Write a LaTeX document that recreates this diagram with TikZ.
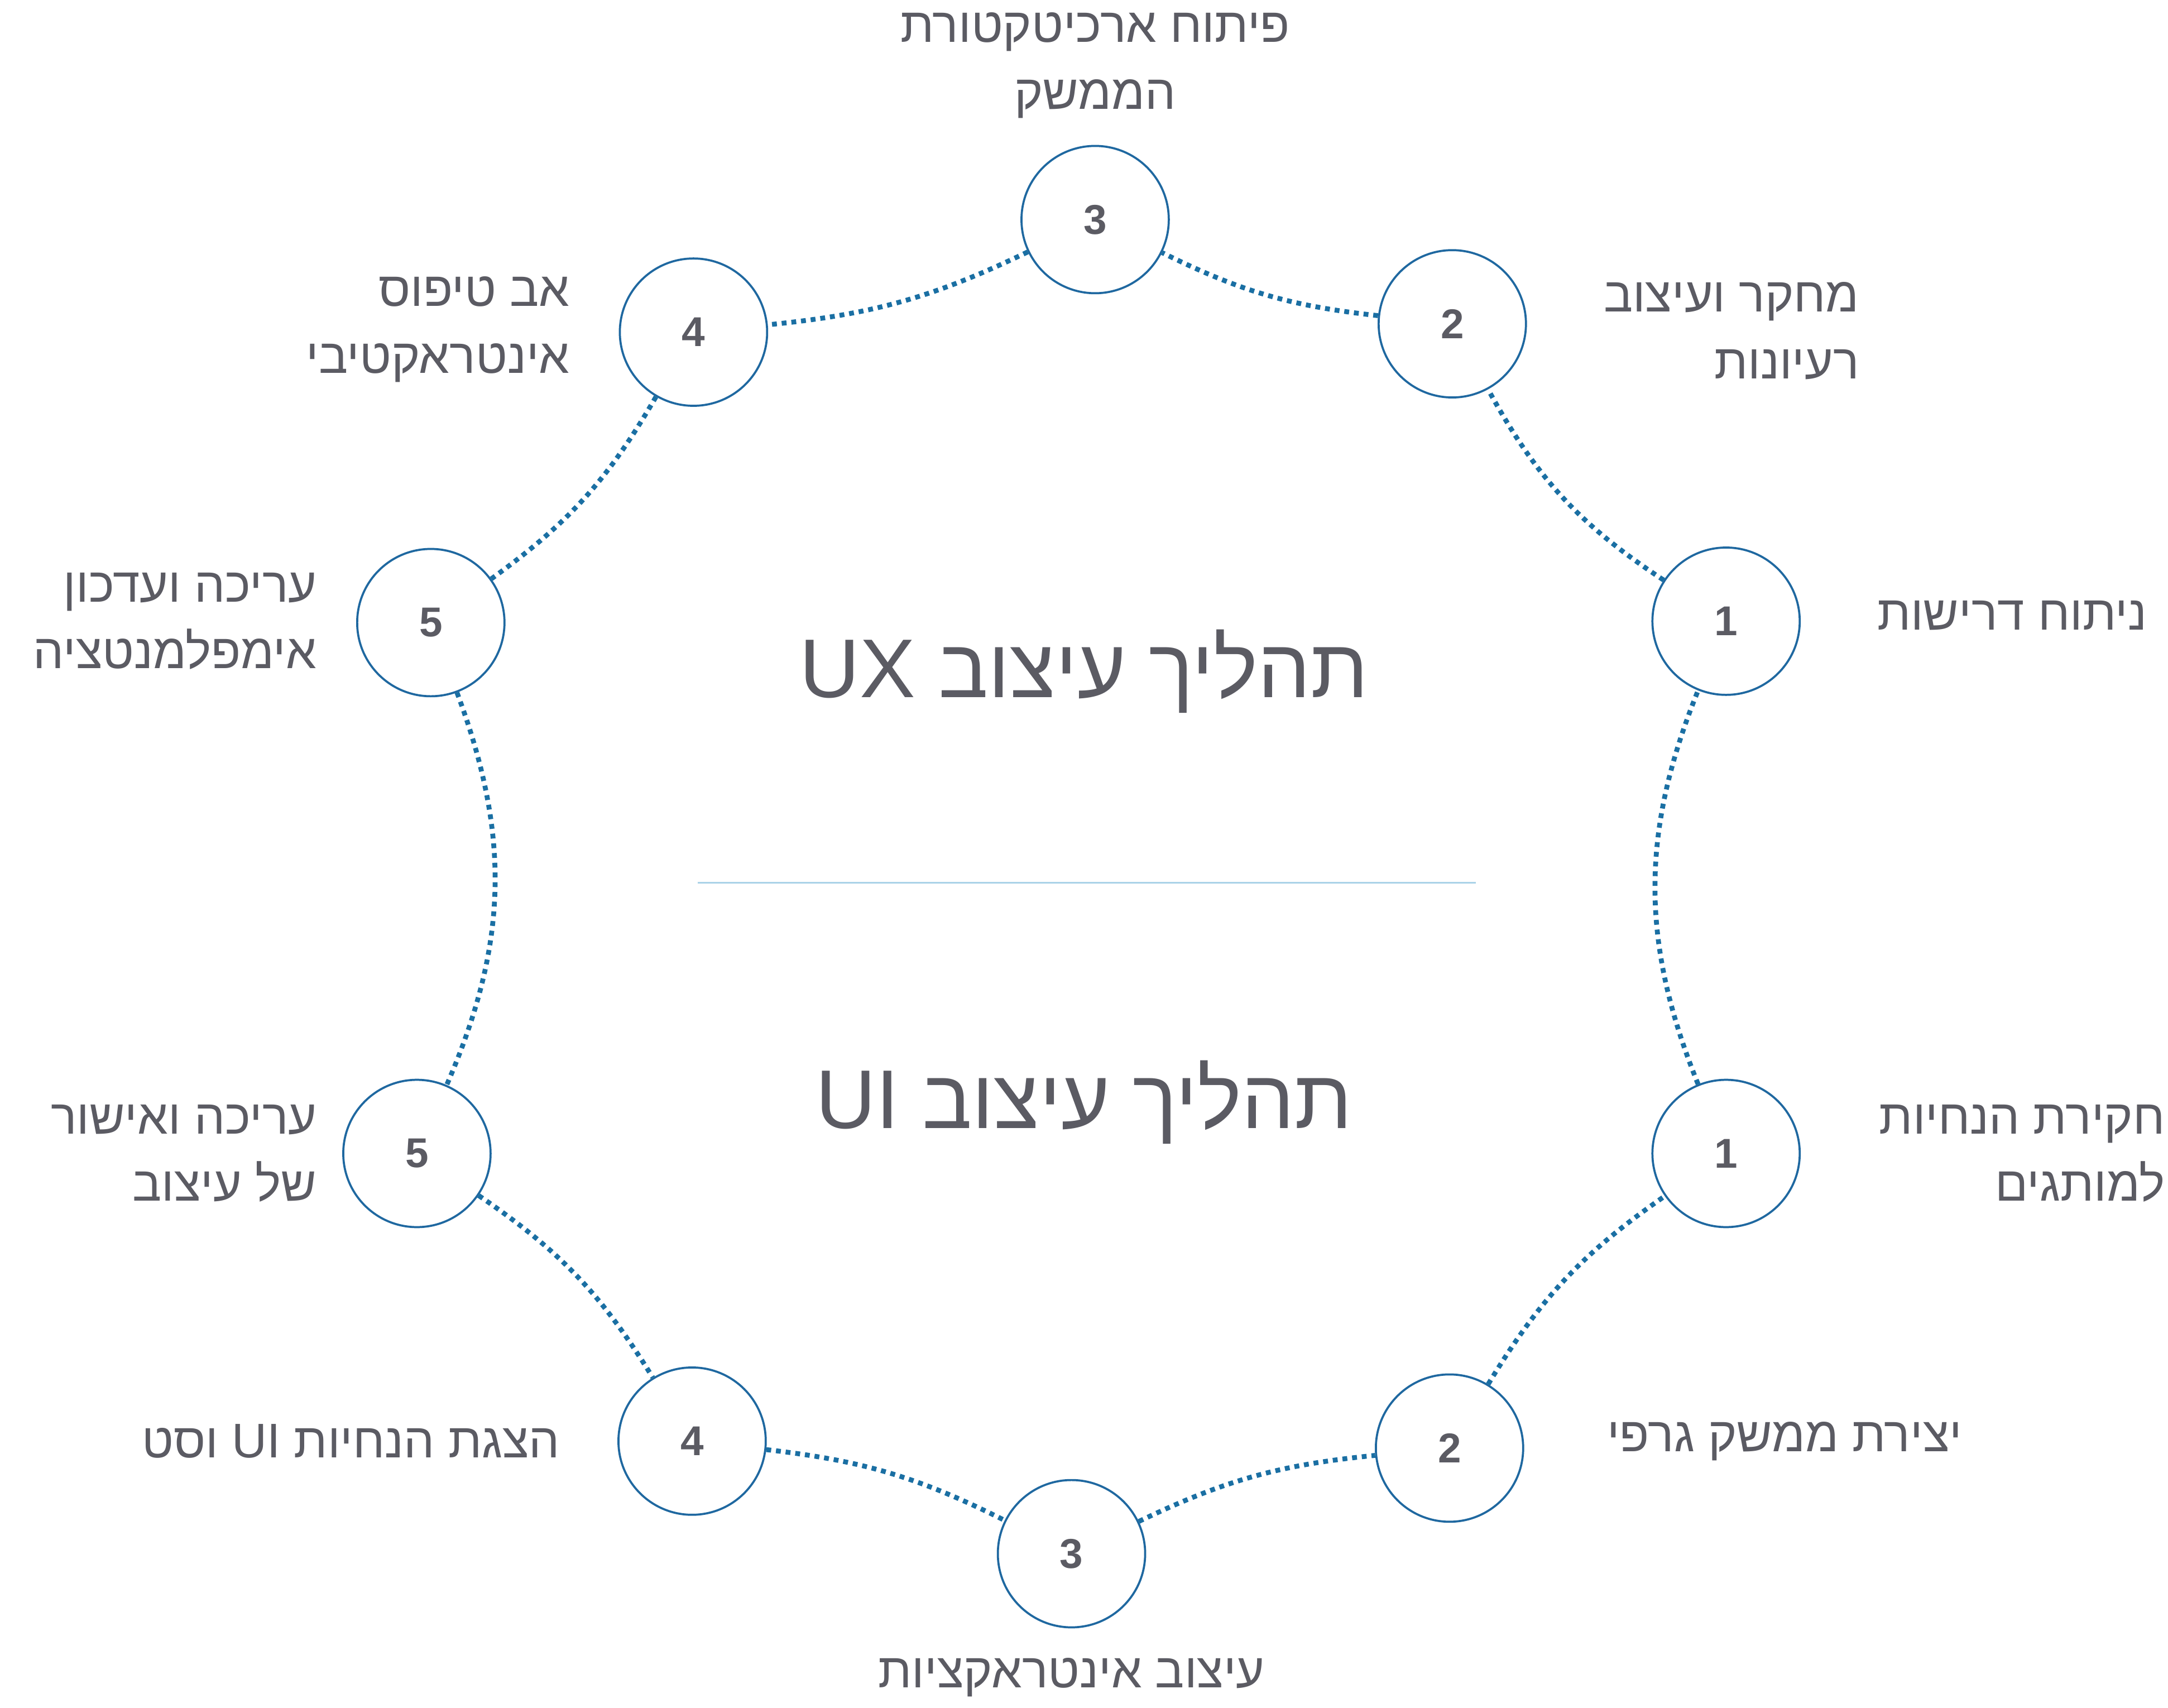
\documentclass[tikz,border=0pt]{standalone}
\usepackage{fontspec}
\setmainfont{Liberation Sans}
\newfontfamily\hebfont[Script=Hebrew]{Liberation Sans}
\TeXXeTstate=1
\newcommand{\heb}[1]{{\hebfont\beginR #1\endR}}
\definecolor{txtgray}{HTML}{5B5B63}
\definecolor{ringblue}{HTML}{1F68A0}
\definecolor{dotblue}{HTML}{1A6FA3}
\definecolor{splitblue}{HTML}{A9D2E8}
\tikzset{
  stepcirc/.style={circle, draw=ringblue, line width=1.5pt, minimum size=106pt, inner sep=0pt, fill=white,
    font=\bfseries\fontsize{30}{36}\selectfont, text=txtgray},
  steplabel/.style={align=right, text=txtgray, font=\fontsize{35}{48}\selectfont, inner sep=0pt},
  titletext/.style={text=txtgray, font=\fontsize{60}{70}\selectfont},
  link/.style={draw=dotblue, line width=3.5pt, dash pattern=on 3.5pt off 3.5pt}
}
\begin{document}
\begin{tikzpicture}[x=1pt,y=-1pt]
\useasboundingbox (0,0) rectangle (1560,1229);
% ux steps
\node[stepcirc] (ux1) at (1242,447) {1};
\node[stepcirc] (ux2) at (1045,233) {2};
\node[stepcirc] (ux3) at (788,158) {3};
\node[stepcirc] (ux4) at (499,239) {4};
\node[stepcirc] (ux5) at (310,448) {5};
% ui steps
\node[stepcirc] (ui1) at (1242,830) {1};
\node[stepcirc] (ui2) at (1043,1042) {2};
\node[stepcirc] (ui3) at (771,1118) {3};
\node[stepcirc] (ui4) at (498,1037) {4};
\node[stepcirc] (ui5) at (300,830) {5};
% dotted ring
\draw[link] (ux1) to[bend left=14] (ux2);
\draw[link] (ux2) to[bend left=10] (ux3);
\draw[link] (ux3) to[bend left=10] (ux4);
\draw[link] (ux4) to[bend left=12] (ux5);
\draw[link] (ux5) to[bend left=22] (ui5);
\draw[link] (ui5) to[bend left=12] (ui4);
\draw[link] (ui4) to[bend left=10] (ui3);
\draw[link] (ui3) to[bend left=10] (ui2);
\draw[link] (ui2) to[bend left=12] (ui1);
\draw[link] (ui1) to[bend left=22] (ux1);
% titles
\node[titletext] (uxtitle) at (780,483) {\heb{תהליך עיצוב \beginL UX\endL{}}};
\node[titletext] (uititle) at (780,793) {\heb{תהליך עיצוב \beginL UI\endL{}}};
\coordinate (splitl) at (502,635);
\coordinate (splitr) at (1062,635);
\draw[splitblue, line width=1.2pt] (splitl) -- (splitr);
% labels
\node[steplabel, anchor=east] (lux1) at (1545,443) {\heb{ניתוח דרישות}};
\node[steplabel, anchor=east] (lux2) at (1338,238) {\heb{מחקר ועיצוב}\\\heb{רעיונות}};
\node[steplabel, align=center] (lux3) at (788,47) {\heb{פיתוח ארכיטקטורת}\\\heb{הממשק}};
\node[steplabel, anchor=east] (lux4) at (410,237) {\heb{אב טיפוס}\\\heb{אינטראקטיבי}};
\node[steplabel, anchor=east] (lux5) at (228,447) {\heb{עריכה ועדכון}\\\heb{אימפלמנטציה}};
\node[steplabel, anchor=east] (lui1) at (1558,830) {\heb{חקירת הנחיות}\\\heb{למותגים}};
\node[steplabel, anchor=east] (lui2) at (1412,1037) {\heb{יצירת ממשק גרפי}};
\node[steplabel] (lui3) at (771,1207) {\heb{עיצוב אינטראקציות}};
\node[steplabel, anchor=east] (lui4) at (403,1037) {\heb{הצגת הנחיות \beginL UI\endL{} וסט}};
\node[steplabel, anchor=east] (lui5) at (228,830) {\heb{עריכה ואישור}\\\heb{של עיצוב}};
\end{tikzpicture}
\end{document}
